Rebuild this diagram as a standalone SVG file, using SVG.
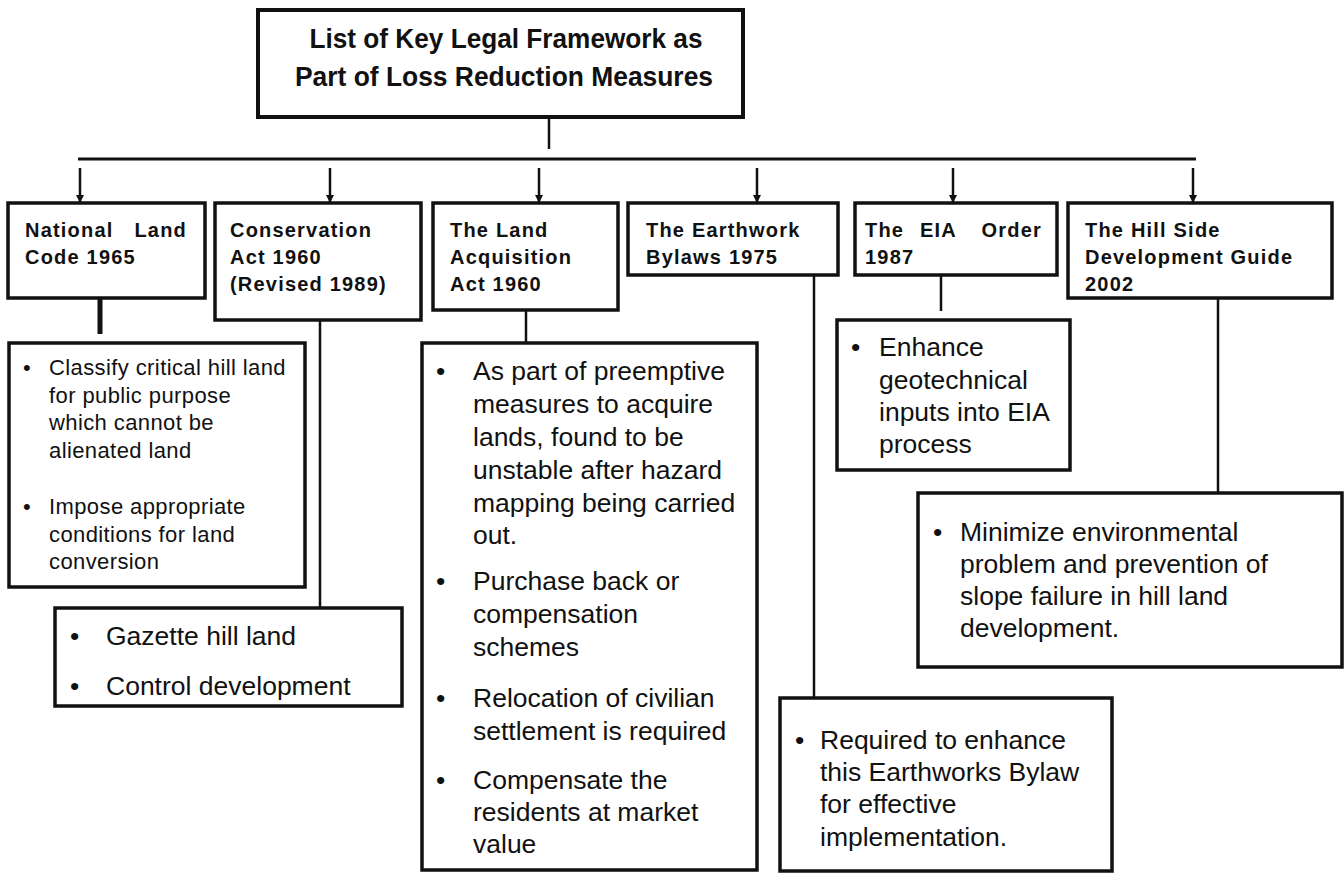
<svg xmlns="http://www.w3.org/2000/svg" width="1344" height="875" viewBox="0 0 1344 875">
<defs>
<style>
.box{fill:#fff;stroke:#111;stroke-width:3.5}
.ln{fill:none;stroke:#111;stroke-width:2.5}
.t{font-family:"Liberation Sans",Arial,sans-serif;font-weight:bold;font-size:27px;fill:#111;text-anchor:middle}
.n{font-family:"Liberation Sans",Arial,sans-serif;font-weight:bold;font-size:20px;letter-spacing:1.2px;fill:#111}
.d{font-family:"Liberation Sans",Arial,sans-serif;font-size:26.5px;fill:#111}
.s{font-family:"Liberation Sans",Arial,sans-serif;font-size:22px;letter-spacing:0.4px;fill:#111}
</style>
<marker id="ah" viewBox="0 0 10 10" refX="10" refY="5" markerWidth="8" markerHeight="8" markerUnits="userSpaceOnUse" orient="auto">
<path d="M0,0 L10,5 L0,10 z" fill="#111"/>
</marker>
</defs>
<rect width="1344" height="875" fill="#fff"/>

<g id="connectors">
<line class="ln" x1="549" y1="117" x2="549" y2="149"/>
<line class="ln" x1="78" y1="159" x2="1196" y2="159" style="stroke-width:3"/>
<line class="ln" x1="80" y1="168" x2="80" y2="203" marker-end="url(#ah)"/>
<line class="ln" x1="330" y1="168" x2="330" y2="203" marker-end="url(#ah)"/>
<line class="ln" x1="539" y1="168" x2="539" y2="203" marker-end="url(#ah)"/>
<line class="ln" x1="757" y1="168" x2="757" y2="203" marker-end="url(#ah)"/>
<line class="ln" x1="953" y1="168" x2="953" y2="203" marker-end="url(#ah)"/>
<line class="ln" x1="1193" y1="168" x2="1193" y2="203" marker-end="url(#ah)"/>
<line class="ln" x1="100" y1="298" x2="100" y2="334" style="stroke-width:5"/>
<line class="ln" x1="320" y1="320" x2="320" y2="608"/>
<line class="ln" x1="526" y1="310" x2="526" y2="343"/>
<line class="ln" x1="814" y1="275" x2="814" y2="698"/>
<line class="ln" x1="941" y1="275" x2="941" y2="311"/>
<line class="ln" x1="1218" y1="298" x2="1218" y2="493"/>
</g>

<g id="title">
<rect class="box" x="258" y="10" width="485" height="107" style="stroke-width:4"/>
<text class="t" x="506" y="48" textLength="393" lengthAdjust="spacingAndGlyphs">List of Key Legal Framework as</text>
<text class="t" x="504" y="86" textLength="418" lengthAdjust="spacingAndGlyphs">Part of Loss Reduction Measures</text>
</g>

<g id="node-nlc">
<rect class="box" x="8" y="203" width="197" height="95"/>
<text class="n" x="25" y="237">National</text>
<text class="n" x="187" y="237" text-anchor="end">Land</text>
<text class="n" x="25" y="264">Code 1965</text>
</g>

<g id="node-ca">
<rect class="box" x="215" y="203" width="206" height="117"/>
<text class="n" x="230" y="237">Conservation</text>
<text class="n" x="230" y="264">Act 1960</text>
<text class="n" x="230" y="291">(Revised 1989)</text>
</g>

<g id="node-laa">
<rect class="box" x="433" y="203" width="185" height="107"/>
<text class="n" x="450" y="237">The Land</text>
<text class="n" x="450" y="264">Acquisition</text>
<text class="n" x="450" y="291">Act 1960</text>
</g>

<g id="node-eb">
<rect class="box" x="628" y="203" width="210" height="72"/>
<text class="n" x="646" y="237">The Earthwork</text>
<text class="n" x="646" y="264">Bylaws 1975</text>
</g>

<g id="node-eia">
<rect class="box" x="855" y="203" width="202" height="72"/>
<text class="n" x="865" y="237">The</text>
<text class="n" x="920" y="237">EIA</text>
<text class="n" x="1042" y="237" text-anchor="end">Order</text>
<text class="n" x="865" y="264">1987</text>
</g>

<g id="node-hsdg">
<rect class="box" x="1068" y="203" width="264" height="95"/>
<text class="n" x="1085" y="237">The Hill Side</text>
<text class="n" x="1085" y="264">Development Guide</text>
<text class="n" x="1085" y="291">2002</text>
</g>

<g id="desc-nlc">
<rect class="box" x="9" y="343" width="296" height="244"/>
<text class="s" x="23" y="375">•</text>
<text class="s" x="49" y="375">Classify critical hill land</text>
<text class="s" x="49" y="402.5">for public purpose</text>
<text class="s" x="49" y="430">which cannot be</text>
<text class="s" x="49" y="457.5">alienated land</text>
<text class="s" x="23" y="514">•</text>
<text class="s" x="49" y="514">Impose appropriate</text>
<text class="s" x="49" y="541.5">conditions for land</text>
<text class="s" x="49" y="569">conversion</text>
</g>

<g id="desc-ca">
<rect class="box" x="55" y="608" width="347" height="98"/>
<text class="d" x="70" y="645">•</text>
<text class="d" x="106" y="645">Gazette hill land</text>
<text class="d" x="70" y="695">•</text>
<text class="d" x="106" y="695">Control development</text>
</g>

<g id="desc-laa">
<rect class="box" x="422" y="343" width="335" height="527"/>
<text class="d" x="436" y="380">•</text>
<text class="d" x="473" y="380">As part of preemptive</text>
<text class="d" x="473" y="413">measures to acquire</text>
<text class="d" x="473" y="446">lands, found to be</text>
<text class="d" x="473" y="479">unstable after hazard</text>
<text class="d" x="473" y="512">mapping being carried</text>
<text class="d" x="473" y="544">out.</text>
<text class="d" x="436" y="590">•</text>
<text class="d" x="473" y="590">Purchase back or</text>
<text class="d" x="473" y="623">compensation</text>
<text class="d" x="473" y="656">schemes</text>
<text class="d" x="436" y="707">•</text>
<text class="d" x="473" y="707">Relocation of civilian</text>
<text class="d" x="473" y="740">settlement is required</text>
<text class="d" x="436" y="789">•</text>
<text class="d" x="473" y="789">Compensate the</text>
<text class="d" x="473" y="821">residents at market</text>
<text class="d" x="473" y="853">value</text>
</g>

<g id="desc-eia">
<rect class="box" x="837" y="320" width="233" height="150"/>
<text class="d" x="851" y="356">•</text>
<text class="d" x="879" y="356">Enhance</text>
<text class="d" x="879" y="389">geotechnical</text>
<text class="d" x="879" y="421">inputs into EIA</text>
<text class="d" x="879" y="453">process</text>
</g>

<g id="desc-hsdg">
<rect class="box" x="918" y="493" width="424" height="174"/>
<text class="d" x="933" y="541">•</text>
<text class="d" x="960" y="541">Minimize environmental</text>
<text class="d" x="960" y="573">problem and prevention of</text>
<text class="d" x="960" y="605">slope failure in hill land</text>
<text class="d" x="960" y="637">development.</text>
</g>

<g id="desc-eb">
<rect class="box" x="780" y="698" width="332" height="173"/>
<text class="d" x="795" y="749">•</text>
<text class="d" x="820" y="749">Required to enhance</text>
<text class="d" x="820" y="781">this Earthworks Bylaw</text>
<text class="d" x="820" y="813">for effective</text>
<text class="d" x="820" y="846">implementation.</text>
</g>
</svg>
